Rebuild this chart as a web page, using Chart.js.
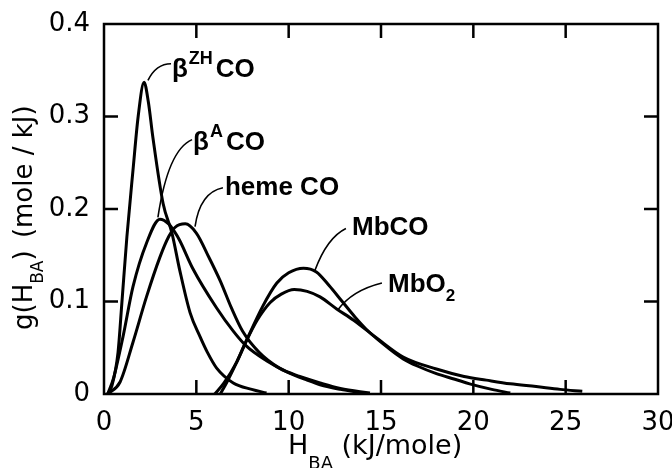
<!DOCTYPE html>
<html><head><meta charset="utf-8">
<script src="https://cdn.jsdelivr.net/npm/chart.js@4.4.1/dist/chart.umd.min.js"></script>
<style>html,body{margin:0;padding:0;background:#fff;}#wrap{width:672px;height:468px;}</style>
</head><body><div id="wrap"><canvas id="c" width="672" height="468"></canvas></div>
<script>
// ---- data ----
const xTickValues = [0, 5, 10, 15, 20, 25, 30];
const xTickLabels = ['0', '5', '10', '15', '20', '25', '30'];
const yTickValues = [0, 0.1, 0.2, 0.3, 0.4];
const yTickLabels = ['0', '0.1', '0.2', '0.3', '0.4'];

const zhX = [0.2, 0.43, 0.76, 0.97, 1.24, 1.57, 1.85, 2.17, 2.4, 2.65, 3.2, 3.68, 4.1, 4.66, 5.2, 5.6, 6.1, 7.0, 8.0, 8.8];
const zhY = [0, 0.009, 0.045, 0.099, 0.17, 0.242, 0.3, 0.337, 0.316, 0.277, 0.206, 0.174, 0.134, 0.088, 0.062, 0.045, 0.028, 0.012, 0.005, 0.001];

const baX = [0.2, 0.5, 1.03, 1.57, 2.3, 3.03, 3.5, 3.8, 4.1, 4.8, 6.1, 7.0, 7.7, 8.8, 9.9, 11.0, 11.7, 12.8, 14.0];
const baY = [0, 0.016, 0.062, 0.116, 0.163, 0.189, 0.184, 0.176, 0.166, 0.136, 0.093, 0.068, 0.052, 0.036, 0.024, 0.015, 0.01, 0.005, 0.001];

const hemeX = [0.2, 0.87, 1.57, 2.3, 3.03, 3.5, 3.84, 4.4, 5.0, 5.7, 6.3, 6.9, 7.5, 8.4, 9.5, 10.6, 11.7, 12.8, 14.4];
const hemeY = [0, 0.013, 0.056, 0.105, 0.148, 0.17, 0.18, 0.184, 0.174, 0.147, 0.122, 0.093, 0.068, 0.045, 0.028, 0.019, 0.012, 0.006, 0.001];

const mbcoX = [6.3, 6.66, 7.2, 7.74, 8.6, 9.36, 10.0, 10.8, 11.5, 12.2, 12.9, 13.6, 14.2, 15.5, 16.2, 17.0, 18.0, 19.0, 19.8, 21.0, 22.0];
const mbcoY = [0, 0.013, 0.035, 0.059, 0.095, 0.12, 0.131, 0.136, 0.132, 0.117, 0.1, 0.083, 0.07, 0.048, 0.038, 0.03, 0.022, 0.016, 0.011, 0.005, 0.001];

const mbo2X = [6.0, 6.5, 7.2, 7.7, 8.3, 9.0, 9.6, 10.3, 11.0, 11.7, 12.6, 13.5, 14.8, 16.2, 18.0, 19.5, 20.7, 22.0, 23.4, 24.7, 25.9];
const mbo2Y = [0, 0.012, 0.035, 0.057, 0.08, 0.099, 0.108, 0.113, 0.111, 0.105, 0.092, 0.08, 0.06, 0.04, 0.027, 0.019, 0.015, 0.011, 0.008, 0.005, 0.003];

const seriesList = [[zhX, zhY], [baX, baY], [hemeX, hemeY], [mbcoX, mbcoY], [mbo2X, mbo2Y]];

// ---- curve labels (anchor in data coords) ----
const labelFont = '"Liberation Sans", Arial, sans-serif';
const curveLabels = [
  { at: [3.68, 0.343], parts: [{ t: 'β', s: 26 }, { t: 'ZH', s: 18, dy: -13, gap: 1 }, { t: 'CO', s: 26, gap: 3 }],
    leader: [[2.38, 0.339], [2.82, 0.357], [3.63, 0.357]] },
  { at: [4.82, 0.264], parts: [{ t: 'β', s: 26 }, { t: 'A', s: 18, dy: -13, gap: 1 }, { t: 'CO', s: 26, gap: 3 }],
    leader: [[2.92, 0.191], [3.47, 0.264], [4.77, 0.275]] },
  { at: [6.55, 0.215], parts: [{ t: 'heme CO', s: 26 }],
    leader: [[4.93, 0.181], [5.2, 0.218], [6.44, 0.223]] },
  { at: [13.43, 0.172], parts: [{ t: 'MbCO', s: 26 }],
    leader: [[11.43, 0.134], [12.08, 0.169], [13.1, 0.179]] },
  { at: [15.38, 0.110], parts: [{ t: 'MbO', s: 26 }, { t: '2', s: 17, dy: 9 }],
    leader: [[12.67, 0.091], [13.43, 0.112], [15.05, 0.12]] }
];

function drawRich(ctx, x, y, parts, family, weight) {
  let cx = x;
  parts.forEach(p => {
    ctx.font = (weight || '') + ' ' + p.s + 'px ' + family;
    cx += (p.gap || 0);
    ctx.fillText(p.t, cx, y + (p.dy || 0));
    cx += ctx.measureText(p.t).width;
  });
}

const inkPlugin = {
  id: 'ink',
  beforeDraw(chart) {
    const c = chart.ctx; c.save(); c.fillStyle = '#fff'; c.fillRect(0, 0, chart.width, chart.height); c.restore();
  },
  afterDatasetsDraw(chart) {
    const { ctx, chartArea: a, scales: { x, y } } = chart;
    ctx.save();
    ctx.strokeStyle = '#000'; ctx.fillStyle = '#000';
    ctx.lineWidth = 2.5;
    ctx.strokeRect(a.left, a.top, a.right - a.left, a.bottom - a.top);
    const L = 14;
    ctx.beginPath();
    xTickValues.forEach(v => {
      if (v <= x.min || v >= x.max) return;
      const p = x.getPixelForValue(v);
      ctx.moveTo(p, a.bottom); ctx.lineTo(p, a.bottom - L);
      ctx.moveTo(p, a.top); ctx.lineTo(p, a.top + L);
    });
    yTickValues.forEach(v => {
      if (v <= y.min || v >= y.max) return;
      const p = y.getPixelForValue(v);
      ctx.moveTo(a.left, p); ctx.lineTo(a.left + L, p);
      ctx.moveTo(a.right, p); ctx.lineTo(a.right - L, p);
    });
    ctx.stroke();

    // leaders and curve labels
    ctx.lineWidth = 1.6;
    ctx.textAlign = 'left'; ctx.textBaseline = 'alphabetic';
    curveLabels.forEach(lb => {
      const P = lb.leader.map(q => [x.getPixelForValue(q[0]), y.getPixelForValue(q[1])]);
      ctx.beginPath();
      ctx.moveTo(P[0][0], P[0][1]);
      ctx.quadraticCurveTo(P[1][0], P[1][1], P[2][0], P[2][1]);
      ctx.stroke();
      drawRich(ctx, x.getPixelForValue(lb.at[0]), y.getPixelForValue(lb.at[1]), lb.parts, labelFont, 'bold');
    });

    // axis titles
    const axFont = '"DejaVu Sans", sans-serif';
    drawRich(ctx, 288, 454, [{ t: 'H', s: 27 }, { t: 'BA', s: 18, dy: 15 }, { t: ' (kJ/mole)', s: 27 }], axFont, '');
    ctx.save();
    ctx.translate(32, 330);
    ctx.rotate(-Math.PI / 2);
    drawRich(ctx, 0, 0, [{ t: 'g(H', s: 26 }, { t: 'BA', s: 17, dy: 11 }, { t: ')', s: 26 }, { t: ' (mole / kJ)', s: 26, gap: 4 }], axFont, '');
    ctx.restore();
    ctx.restore();
  }
};

const tickFont = { family: 'DejaVu Sans', size: 26 };

new Chart(document.getElementById('c'), {
  type: 'scatter',
  data: {
    datasets: seriesList.map(s => ({
      data: s[0].map((v, i) => ({ x: v, y: s[1][i] })),
      showLine: true, borderColor: '#000', borderWidth: 3, pointRadius: 0,
      cubicInterpolationMode: 'monotone', fill: false
    }))
  },
  options: {
    responsive: false, animation: false, devicePixelRatio: 1,
    layout: { padding: { top: 24, right: 14, left: 0, bottom: 0 } },
    plugins: { legend: { display: false }, tooltip: { enabled: false } },
    scales: {
      x: {
        type: 'linear', min: 0, max: 30,
        grid: { display: false }, border: { display: false },
        afterBuildTicks(s) { s.ticks = xTickValues.map(v => ({ value: v })); },
        ticks: { padding: 6, color: '#000', font: tickFont, maxRotation: 0, autoSkip: false,
                 callback: (v, i) => xTickLabels[i] },
        afterFit(s) { s.height = 74; s.paddingLeft = 0; s.paddingRight = 0; }
      },
      y: {
        type: 'linear', min: 0, max: 0.4,
        grid: { display: false }, border: { display: false },
        afterBuildTicks(s) { s.ticks = yTickValues.map(v => ({ value: v })); },
        ticks: { padding: 6, color: '#000', font: tickFont, autoSkip: false,
                 callback: (v, i) => yTickLabels[i] },
        afterFit(s) { s.width = 104; s.paddingTop = 0; s.paddingBottom = 0; }
      }
    }
  },
  plugins: [inkPlugin]
});
</script>
</body></html>
